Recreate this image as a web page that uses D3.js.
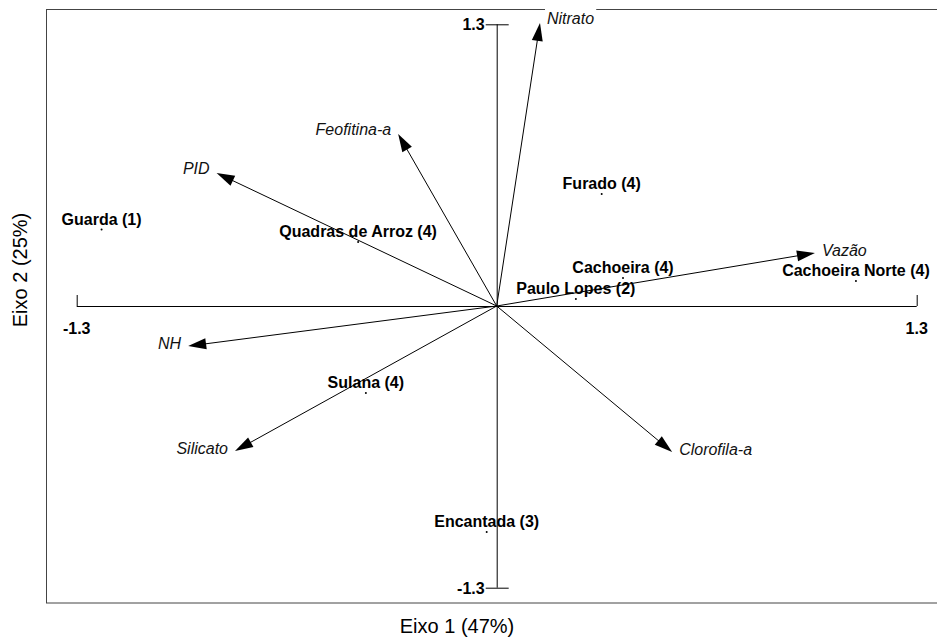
<!DOCTYPE html>
<html><head><meta charset="utf-8">
<script src="https://cdn.jsdelivr.net/npm/d3@7"></script>
<style>body{margin:0;background:#fff}svg{display:block}</style>
</head><body>
<svg id="c" width="937" height="640"></svg>
<script>
const varNames = ["Nitrato","Feofitina-a","PID","Vazão","NH","Silicato","Clorofila-a"];
const varX = [0.134,-0.305,-0.867,0.985,-0.955,-0.810,0.543];
const varY = [1.306,0.794,0.614,0.245,-0.185,-0.669,-0.674];

const siteNames = ["Guarda (1)","Quadras de Arroz (4)","Furado (4)","Cachoeira (4)","Paulo Lopes (2)","Cachoeira Norte (4)","Sulana (4)","Encantada (3)"];
const siteX = [-1.223,-0.429,0.325,0.391,0.245,1.112,-0.405,-0.031];
const siteY = [0.353,0.295,0.517,0.129,0.032,0.115,-0.401,-1.043];

const axisTicks = [-1.3, 1.3];
const xTitle = "Eixo 1 (47%)";
const yTitle = "Eixo 2 (25%)";

const font = "'Liberation Sans', Arial, Helvetica, sans-serif";
const svg = d3.select("#c");
const x = d3.scaleLinear().domain([-1.3,1.3]).range([76.7,916.7]);
const y = d3.scaleLinear().domain([-1.3,1.3]).range([587.7,24.3]);

// frame (right edge beyond the picture)
svg.append("rect").attr("x",46.5).attr("y",9.5).attr("width",900).attr("height",593.5)
  .attr("fill","none").attr("stroke","#444").attr("stroke-width",1);

const vars = varNames.map((n,i)=>({n, x:varX[i], y:varY[i]}));
const sites = siteNames.map((n,i)=>({n, x:siteX[i], y:siteY[i]}));

// variable labels with white background
const vlab = svg.append("g");
vars.forEach(d=>{
  const tx = x(d.x), ty = y(d.y);
  const right = d.x > 0;
  const t = vlab.append("text")
    .attr("x", right ? tx+7 : tx-7)
    .attr("y", ty + (d.y>0.5 ? 1 : 3))
    .attr("text-anchor", right ? "start" : "end")
    .attr("font-family", font).attr("font-size",16).attr("font-style","italic")
    .attr("fill","#111").text(d.n);
  const bb = t.node().getBBox();
  vlab.insert("rect","text").attr("x",bb.x-2).attr("y",bb.y-4).attr("width",bb.width+4).attr("height",bb.height+4).attr("fill","#fff");
});
vlab.selectAll("text").raise();

// axes
const ax = svg.append("g").attr("stroke","#000").attr("stroke-width",1);
ax.append("line").attr("x1",x(-1.3)).attr("x2",x(1.3)).attr("y1",y(0)+0.5).attr("y2",y(0)+0.5);
ax.append("line").attr("x1",x(0)+0.5).attr("x2",x(0)+0.5).attr("y1",y(1.3)).attr("y2",y(-1.3));
axisTicks.forEach(t=>{
  ax.append("line").attr("x1",x(t)+0.5).attr("x2",x(t)+0.5).attr("y1",y(0)-11).attr("y2",y(0));
  ax.append("line").attr("x1",x(0)-11).attr("x2",x(0)+12).attr("y1",y(t)+0.5).attr("y2",y(t)+0.5);
});
const tl = svg.append("g").attr("font-family",font).attr("font-size",16).attr("font-weight","bold").attr("fill","#000");
axisTicks.forEach(t=>{
  tl.append("text").attr("x",x(t)).attr("y",y(0)+28).attr("text-anchor","middle").text(t.toFixed(1));
  tl.append("text").attr("x",x(0)-12).attr("y",y(t)+6).attr("text-anchor","end").text(t.toFixed(1));
});

// arrows
const ag = svg.append("g");
vars.forEach(d=>{
  const x0=x(0), y0=y(0), x1=x(d.x), y1=y(d.y);
  const dx=x1-x0, dy=y1-y0, L=Math.hypot(dx,dy), ux=dx/L, uy=dy/L;
  const hl=18, hw=5.5;
  const bx=x1-ux*hl, by=y1-uy*hl;
  ag.append("line").attr("x1",x0).attr("y1",y0).attr("x2",bx+ux*2).attr("y2",by+uy*2)
    .attr("stroke","#000").attr("stroke-width",1);
  ag.append("path").attr("d",`M${x1},${y1}L${bx-uy*hw},${by+ux*hw}L${bx+uy*hw},${by-ux*hw}Z`)
    .attr("fill","#000");
});

// sites
const sg = svg.append("g");
sites.forEach(d=>{
  sg.append("circle").attr("cx",x(d.x)).attr("cy",y(d.y)).attr("r",1).attr("fill","#000");
  sg.append("text").attr("x",x(d.x)).attr("y",y(d.y)-5).attr("text-anchor","middle")
    .attr("font-family",font).attr("font-size",16).attr("font-weight","bold").attr("fill","#000").text(d.n);
});

// titles
svg.append("text").attr("x",457).attr("y",633).attr("text-anchor","middle")
  .attr("font-family",font).attr("font-size",20).attr("fill","#000").text(xTitle);
svg.append("text").attr("transform","translate(27,270) rotate(-90)").attr("text-anchor","middle")
  .attr("font-family",font).attr("font-size",20).attr("fill","#000").text(yTitle);
</script>
</body></html>
